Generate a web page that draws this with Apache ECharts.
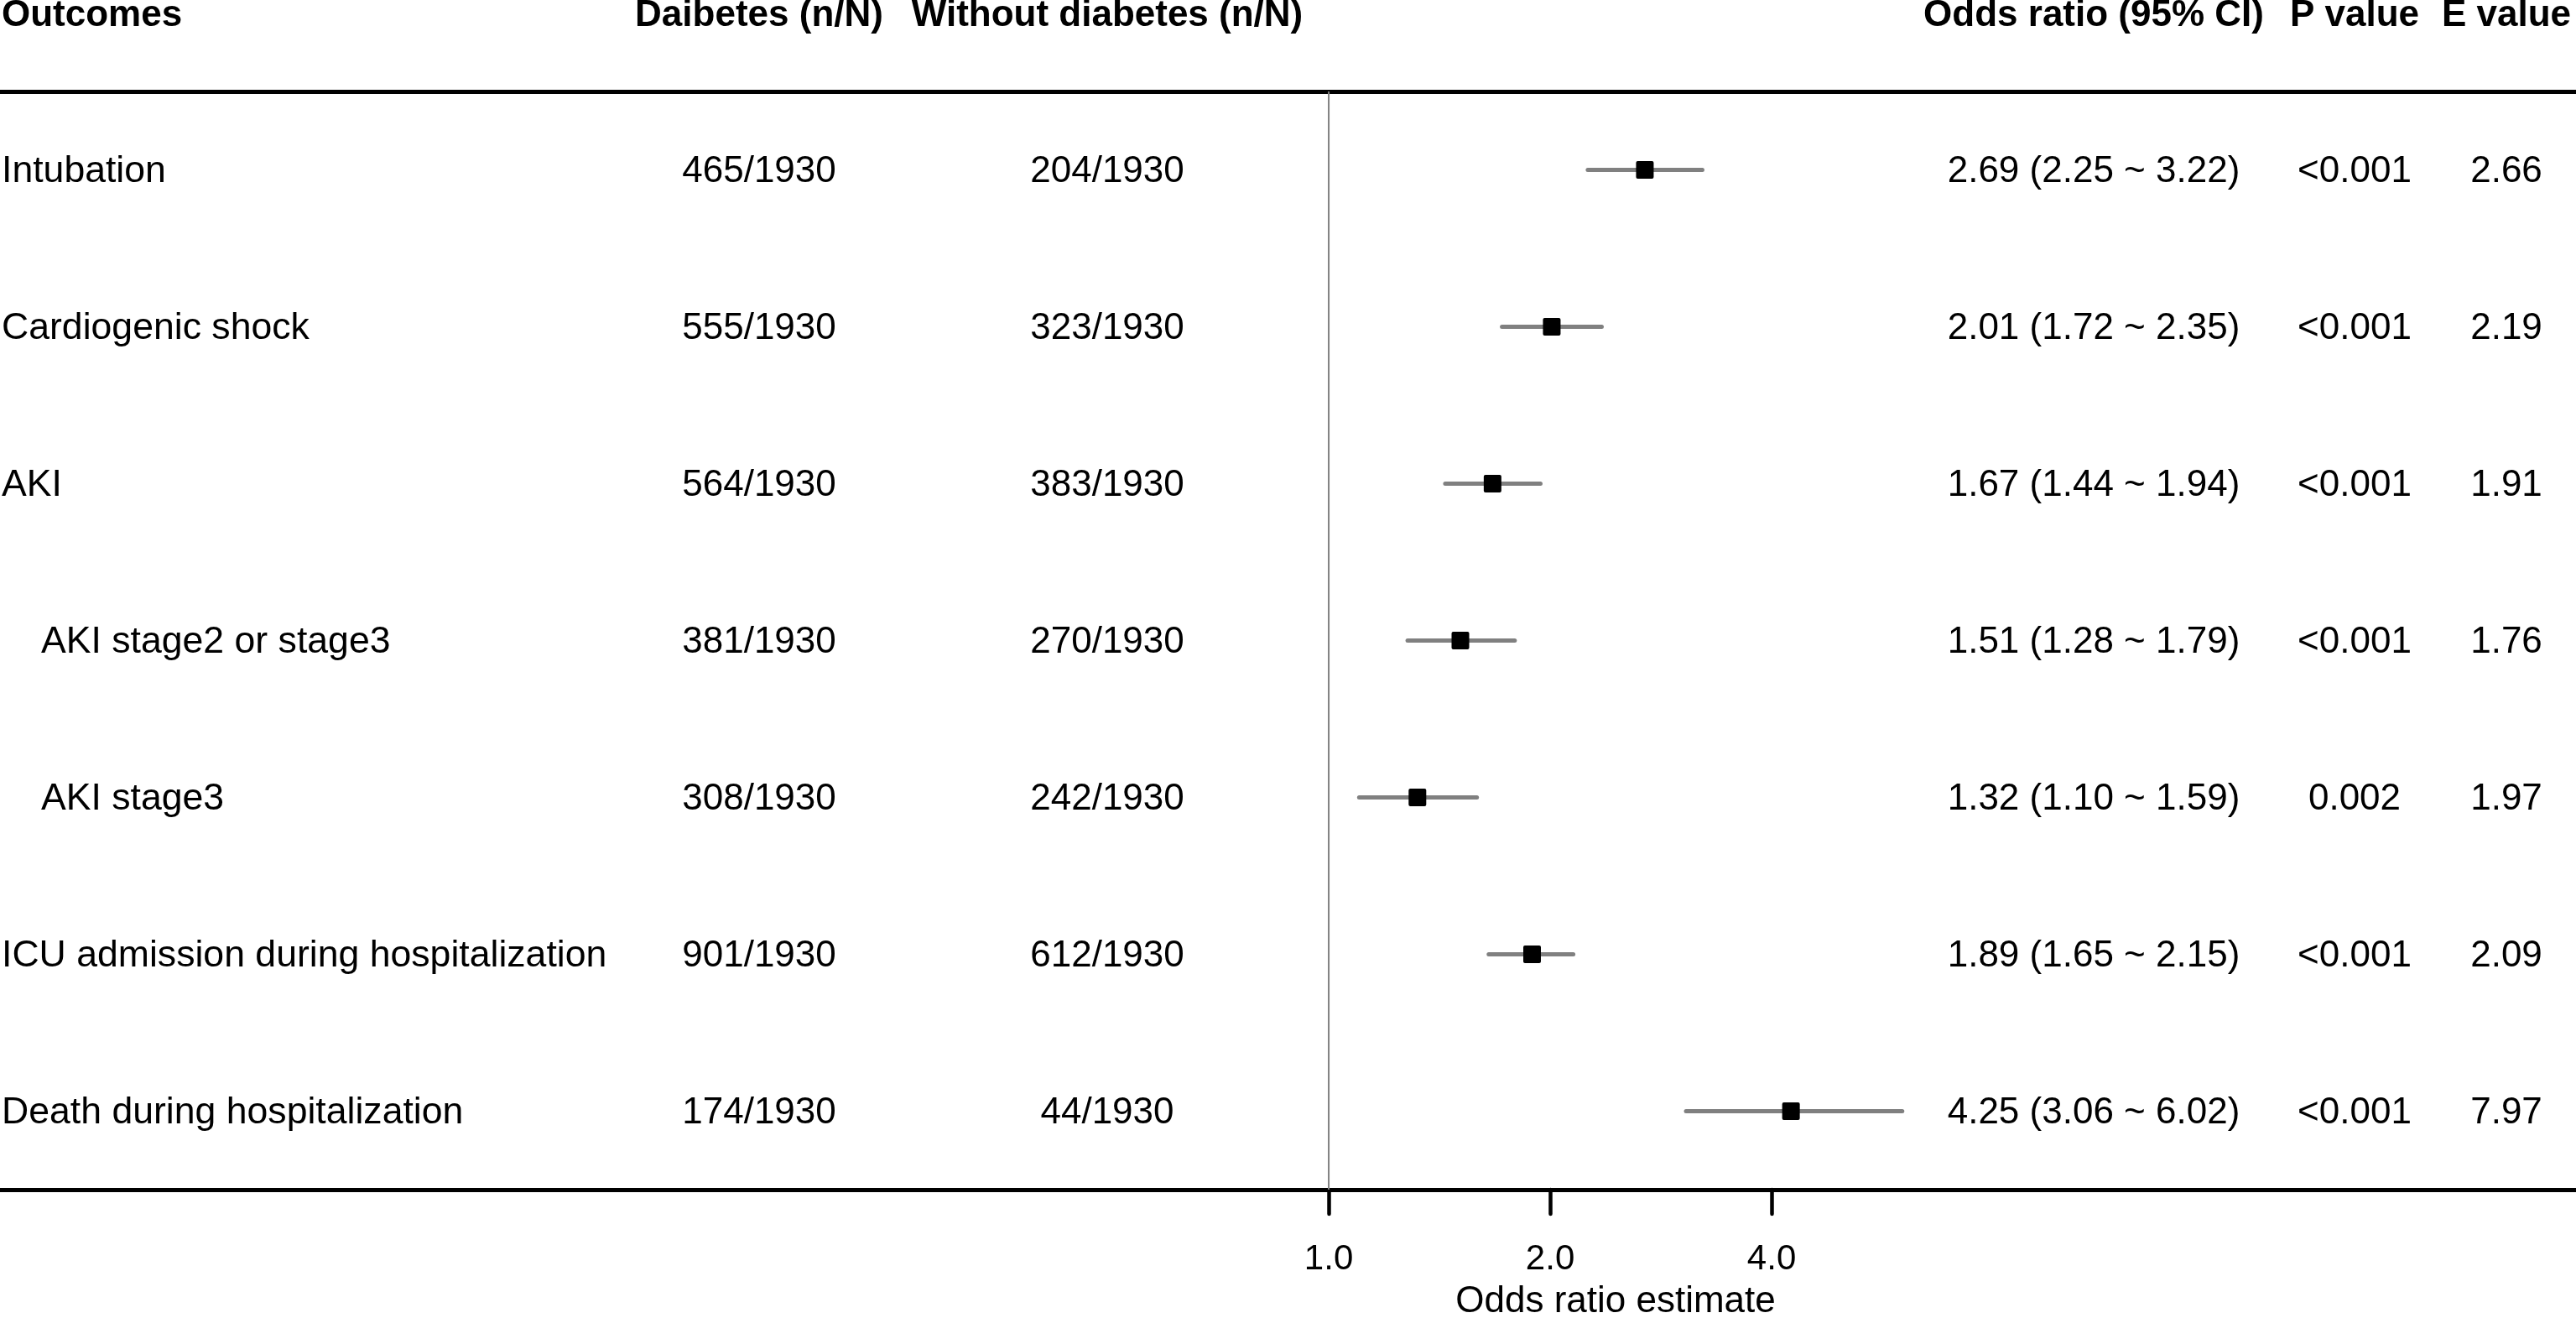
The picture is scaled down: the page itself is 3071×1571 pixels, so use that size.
<!DOCTYPE html>
<html>
<head>
<meta charset="utf-8">
<script src="https://cdn.jsdelivr.net/npm/echarts@6/dist/echarts.min.js"></script>
<style>
html, body { margin: 0; padding: 0; background: #fff; }
#main { width: 3071px; height: 1571px; }
</style>
</head>
<body>
<div id="main"></div>
<script>
var outcomes = ["Intubation", "Cardiogenic shock", "AKI", "AKI stage2 or stage3", "AKI stage3",
    "ICU admission during hospitalization", "Death during hospitalization"];
var outcomeLevel = [0, 0, 0, 1, 1, 0, 0];
var diabetesN = ["465/1930", "555/1930", "564/1930", "381/1930", "308/1930", "901/1930", "174/1930"];
var withoutN = ["204/1930", "323/1930", "383/1930", "270/1930", "242/1930", "612/1930", "44/1930"];
var oddsRatio = [2.69, 2.01, 1.67, 1.51, 1.32, 1.89, 4.25];
var ciLower = [2.25, 1.72, 1.44, 1.28, 1.10, 1.65, 3.06];
var ciUpper = [3.22, 2.35, 1.94, 1.79, 1.59, 2.15, 6.02];
var pValues = ["<0.001", "<0.001", "<0.001", "<0.001", "0.002", "<0.001", "<0.001"];
var eValues = ["2.66", "2.19", "1.91", "1.76", "1.97", "2.09", "7.97"];
var headers = ["Outcomes", "Daibetes (n/N)", "Without diabetes (n/N)", "Odds ratio (95% CI)", "P value", "E value"];
var xTicks = [1, 2, 4];
var refValue = 1;

var FONT = '"Liberation Sans", Arial, Helvetica, sans-serif';
var W = 3071, TOP = 109, BOTTOM = 153, H = 1571;

// column anchors: [x, align]
var cols = [[2, "left"], [905, "center"], [1320, "center"], [2496, "center"], [2807, "center"], [2988, "center"]];

function renderForest(params, api) {
    var y = api.value(3);
    var lo = api.coord([api.value(1), y]), hi = api.coord([api.value(2), y]), mid = api.coord([api.value(0), y]);
    return {
        type: "group",
        children: [ {
            type: "line",
            shape: { x1: lo[0], y1: lo[1], x2: hi[0], y2: hi[1] },
            style: { stroke: "#808080", lineWidth: 5, lineCap: "round" }
        }, {
            type: "rect",
            shape: { x: mid[0] - 10.5, y: mid[1] - 10.5, width: 21, height: 21, r: 2 },
            style: { fill: "#000" }
        } ]
    };
}

var chart = echarts.init(document.getElementById("main"));

var option = {
    animation: false,
    backgroundColor: "#fff",
    grid: { left: 0, right: 0, top: TOP, bottom: BOTTOM, containLabel: false, outerBoundsMode: "none" },
    xAxis: {
        type: "log",
        logBase: 2,
        min: 1 / 64,
        max: 49.6,
        axisLine: { show: true, lineStyle: { color: "#000", width: 5 } },
        axisTick: { show: true, customValues: xTicks, length: 29, lineStyle: { color: "#000", width: 4.5, cap: "round" } },
        axisLabel: {
            customValues: xTicks,
            margin: 62,
            fontSize: 42,
            fontFamily: FONT,
            color: "#000",
            formatter: function(v) { return Number(v).toFixed(1); }
        },
        splitLine: { show: false },
        minorTick: { show: false }
    },
    yAxis: {
        type: "category",
        data: outcomes,
        inverse: true,
        axisLine: { show: false },
        axisTick: { show: false },
        axisLabel: { show: false },
        splitLine: { show: false }
    },
    series: [ {
        type: "custom",
        renderItem: renderForest,
        dimensions: [ "or", "lo", "hi", "row" ],
        encode: { x: [ "or", "lo", "hi" ], y: "row" },
        data: oddsRatio.map(function(v, i) { return [v, ciLower[i], ciUpper[i], i]; }),
        z: 3
    } ]
};
chart.setOption(option);

function txt(x, y, s, align, bold, size) {
    return {
        type: "text",
        x: x, y: y,
        style: {
            text: s,
            align: align,
            verticalAlign: "middle",
            fill: "#000",
            font: (bold ? "bold " : "") + (size || 44) + "px " + FONT
        }
    };
}

var g = [];
var refX = chart.convertToPixel({ xAxisIndex: 0 }, refValue);
g.push({ type: "line", z: 1, shape: { x1: refX, y1: TOP, x2: refX, y2: H - BOTTOM }, style: { stroke: "#808080", lineWidth: 2 } });
g.push({ type: "line", shape: { x1: 0, y1: TOP + 0.5, x2: W, y2: TOP + 0.5 }, style: { stroke: "#000", lineWidth: 5 } });
headers.forEach(function(h, k) { g.push(txt(cols[k][0], 19, h, cols[k][1], true)); });

outcomes.forEach(function(name, i) {
    var y = chart.convertToPixel({ yAxisIndex: 0 }, i) + 2;
    var orText = oddsRatio[i].toFixed(2) + " (" + ciLower[i].toFixed(2) + " ~ " + ciUpper[i].toFixed(2) + ")";
    g.push(txt(cols[0][0] + outcomeLevel[i] * 47, y, name, "left", false, 44.6));
    g.push(txt(cols[1][0], y, diabetesN[i], "center"));
    g.push(txt(cols[2][0], y, withoutN[i], "center"));
    g.push(txt(cols[3][0], y, orText, "center"));
    g.push(txt(cols[4][0], y, pValues[i], "center"));
    g.push(txt(cols[5][0], y, eValues[i], "center"));
});
g.push(txt(1926, 1552, "Odds ratio estimate", "center"));

chart.setOption({ graphic: g });
</script>
</body>
</html>
